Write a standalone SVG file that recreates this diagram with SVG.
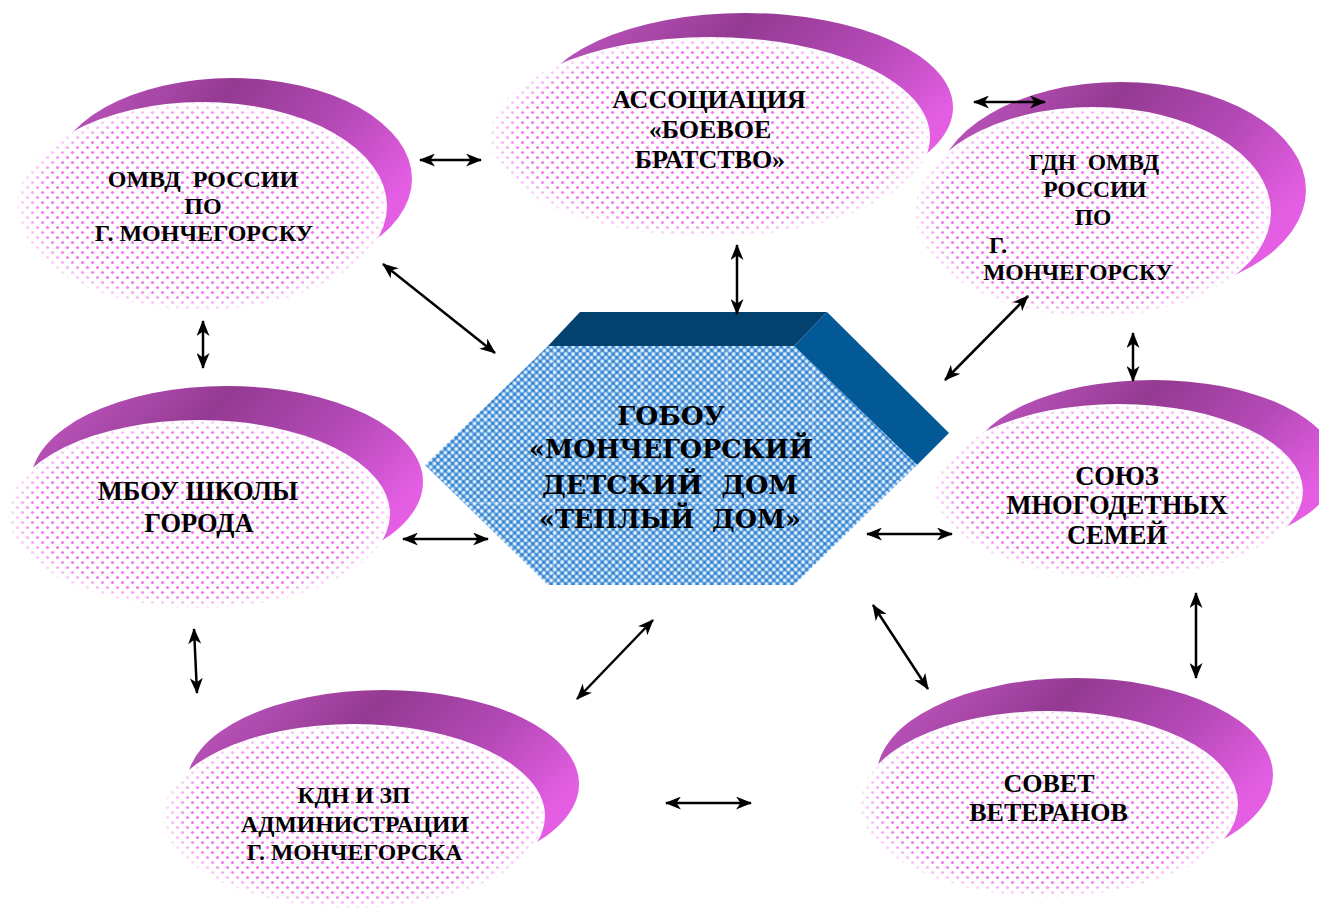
<svg xmlns="http://www.w3.org/2000/svg" width="1319" height="910" viewBox="0 0 1319 910">
<style>
.back{fill:url(#purp)}
.face{fill:#fff}
.dots{fill:url(#dots);mask:url(#fm)}
.lbl{font-family:"Liberation Serif","Times New Roman",serif;font-weight:bold;fill:#000;text-anchor:middle}
.ctr{font-family:"DejaVu Serif",serif;font-weight:bold;fill:#000;text-anchor:middle;font-size:26px}
.con line{stroke:#000;stroke-width:2.5;marker-start:url(#ah);marker-end:url(#ah)}
.seam{stroke:#fff;stroke-width:1;opacity:0.45}
</style>
<defs>
<pattern id="dots" width="10" height="10" patternUnits="userSpaceOnUse">
<circle cx="2.5" cy="2.5" r="1.6" fill="#f27af2"/>
<circle cx="7.5" cy="7.5" r="1.6" fill="#f27af2"/>
</pattern>
<pattern id="blue" width="7.3" height="7.3" patternUnits="userSpaceOnUse">
<rect width="7.3" height="7.3" fill="#2f7ecd"/>
<circle cx="0" cy="0" r="2.3" fill="#93c4f0"/>
<circle cx="7.3" cy="0" r="2.3" fill="#93c4f0"/>
<circle cx="0" cy="7.3" r="2.3" fill="#93c4f0"/>
<circle cx="7.3" cy="7.3" r="2.3" fill="#93c4f0"/>
<circle cx="3.65" cy="3.65" r="2.3" fill="#93c4f0"/>
<path d="M-1.5,-0.55h3v1.1h-3z M-0.55,-1.5h1.1v3h-1.1z" fill="#fff"/>
<path d="M5.8,-0.55h3v1.1h-3z M6.75,-1.5h1.1v3h-1.1z" fill="#fff"/>
<path d="M-1.5,6.75h3v1.1h-3z M-0.55,5.8h1.1v3h-1.1z" fill="#fff"/>
<path d="M5.8,6.75h3v1.1h-3z M6.75,5.8h1.1v3h-1.1z" fill="#fff"/>
<path d="M2.15,3.1h3v1.1h-3z M3.1,2.15h1.1v3h-1.1z" fill="#fff"/>
</pattern>
<radialGradient id="fade" cx="0.5" cy="0.5" r="0.5">
<stop offset="0" stop-color="#fff"/>
<stop offset="0.86" stop-color="#fff"/>
<stop offset="1" stop-color="#333"/>
</radialGradient>
<mask id="fm" maskContentUnits="objectBoundingBox">
<rect width="1" height="1" fill="url(#fade)"/>
</mask>
<linearGradient id="purp" x1="0" y1="0" x2="1" y2="0.5">
<stop offset="0" stop-color="#c95cc9"/>
<stop offset="0.2" stop-color="#b04cb0"/>
<stop offset="0.42" stop-color="#943a92"/>
<stop offset="0.72" stop-color="#b449b6"/>
<stop offset="1" stop-color="#e45ee4"/>
</linearGradient>
<marker id="ah" viewBox="0 0 16 13" refX="15" refY="6.5" markerWidth="16" markerHeight="13" markerUnits="userSpaceOnUse" orient="auto-start-reverse">
<path d="M0,0 L16,6.5 L0,13 L4.5,6.5 Z" fill="#000"/>
</marker>
</defs>

<g id="n1">
<ellipse class="back" cx="232" cy="179" rx="180" ry="101"/>
<ellipse class="face" cx="202" cy="206" rx="185" ry="104"/>
<ellipse class="dots" cx="202" cy="206" rx="185" ry="104"/>
<text class="lbl" font-size="24" xml:space="preserve"><tspan x="203" y="187">ОМВД  РОССИИ</tspan><tspan x="203" y="214">ПО</tspan><tspan x="204" y="241">Г. МОНЧЕГОРСКУ</tspan></text>
</g>

<g id="n2">
<ellipse class="back" cx="745" cy="107.5" rx="208" ry="94.5"/>
<ellipse class="face" cx="710" cy="137" rx="220" ry="100"/>
<ellipse class="dots" cx="710" cy="137" rx="220" ry="100"/>
<text class="lbl" font-size="26"><tspan x="709" y="108">АССОЦИАЦИЯ</tspan><tspan x="710" y="138">«БОЕВОЕ</tspan><tspan x="710" y="168">БРАТСТВО»</tspan></text>
</g>

<g id="n3">
<ellipse class="back" cx="1121" cy="190" rx="185" ry="108"/>
<ellipse class="face" cx="1093" cy="212" rx="178" ry="105"/>
<ellipse class="dots" cx="1093" cy="212" rx="178" ry="105"/>
<text class="lbl" font-size="23.5" xml:space="preserve"><tspan x="1094" y="170">ГДН  ОМВД</tspan><tspan x="1095" y="197">РОССИИ</tspan><tspan x="1093" y="225">ПО</tspan><tspan x="998" y="253">Г.</tspan><tspan x="1078" y="280">МОНЧЕГОРСКУ</tspan></text>
</g>

<g id="n4">
<ellipse class="back" cx="227" cy="482" rx="196" ry="96"/>
<ellipse class="face" cx="199" cy="514" rx="191" ry="94"/>
<ellipse class="dots" cx="199" cy="514" rx="191" ry="94"/>
<text class="lbl" font-size="26.5"><tspan x="198" y="500">МБОУ ШКОЛЫ</tspan><tspan x="199" y="532">ГОРОДА</tspan></text>
</g>

<g id="n5">
<ellipse class="back" cx="383" cy="784" rx="196" ry="94"/>
<ellipse class="face" cx="354" cy="816" rx="191" ry="92"/>
<ellipse class="dots" cx="354" cy="816" rx="191" ry="92"/>
<text class="lbl" font-size="23.7"><tspan x="354" y="803">КДН И ЗП</tspan><tspan x="355" y="832">АДМИНИСТРАЦИИ</tspan><tspan x="354.5" y="860">Г. МОНЧЕГОРСКА</tspan></text>
</g>

<g id="n6">
<ellipse class="back" cx="1153" cy="467" rx="184" ry="87"/>
<ellipse class="face" cx="1119" cy="491" rx="184" ry="87"/>
<ellipse class="dots" cx="1119" cy="491" rx="184" ry="87"/>
<text class="lbl" font-size="26.5"><tspan x="1117" y="485">СОЮЗ</tspan><tspan x="1117" y="514">МНОГОДЕТНЫХ</tspan><tspan x="1117" y="544">СЕМЕЙ</tspan></text>
</g>

<g id="n7">
<ellipse class="back" cx="1075" cy="775" rx="198" ry="97"/>
<ellipse class="face" cx="1049" cy="804" rx="189" ry="93"/>
<ellipse class="dots" cx="1049" cy="804" rx="189" ry="93"/>
<text class="lbl" font-size="26"><tspan x="1049" y="792">СОВЕТ</tspan><tspan x="1048.5" y="821">ВЕТЕРАНОВ</tspan></text>
</g>

<g id="center">
<polygon points="580,312 827,312 794,346 548,346" fill="#03416f"/>
<polygon points="827,312 949,433 917,465 794,346" fill="#035896"/>
<polygon points="548,346 794,346 917,465 794,585 548,585 425,465" fill="url(#blue)"/>
<clipPath id="hexclip"><polygon points="548,346 794,346 917,465 794,585 548,585 425,465"/></clipPath>
<g clip-path="url(#hexclip)" class="seam">
<line x1="554" y1="346" x2="554" y2="585"/>
<line x1="641" y1="346" x2="641" y2="585"/>
<line x1="727" y1="346" x2="727" y2="585"/>
<line x1="813" y1="346" x2="813" y2="585"/>
<line x1="425" y1="418" x2="917" y2="418"/>
<line x1="425" y1="503" x2="917" y2="503"/>
</g>
<text class="ctr" xml:space="preserve"><tspan x="671" y="425" textLength="108" lengthAdjust="spacingAndGlyphs">ГОБОУ</tspan><tspan x="671" y="458" textLength="284" lengthAdjust="spacingAndGlyphs">«МОНЧЕГОРСКИЙ</tspan><tspan x="670" y="494" textLength="256" lengthAdjust="spacingAndGlyphs">ДЕТСКИЙ  ДОМ</tspan><tspan x="670" y="528" textLength="262" lengthAdjust="spacingAndGlyphs">«ТЕПЛЫЙ  ДОМ»</tspan></text>
</g>

<g id="connectors" class="con">
<line x1="420" y1="160" x2="481" y2="160"/>
<line x1="974" y1="102" x2="1045" y2="102"/>
<line x1="383" y1="264" x2="495" y2="353"/>
<line x1="737" y1="245" x2="737" y2="314"/>
<line x1="1028" y1="296" x2="945" y2="380"/>
<line x1="203" y1="321" x2="203" y2="368"/>
<line x1="1133" y1="333" x2="1133" y2="381"/>
<line x1="403" y1="539" x2="488" y2="539"/>
<line x1="867" y1="534" x2="952" y2="534"/>
<line x1="194" y1="629" x2="197" y2="693"/>
<line x1="577" y1="699" x2="653" y2="620"/>
<line x1="666" y1="803" x2="751" y2="803"/>
<line x1="873" y1="605" x2="928" y2="689"/>
<line x1="1196" y1="593" x2="1196" y2="678"/>
</g>
</svg>
